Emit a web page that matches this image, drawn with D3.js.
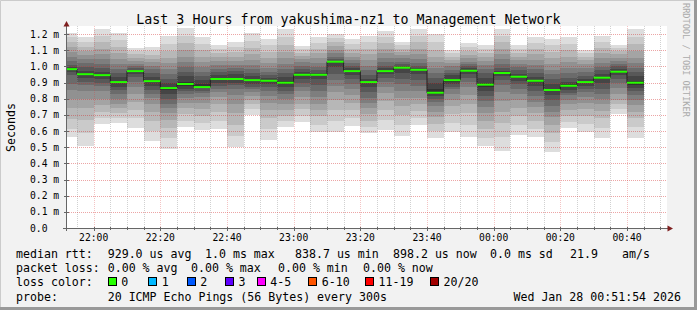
<!DOCTYPE html>
<html>
<head>
<meta charset="utf-8">
<script src="https://cdn.jsdelivr.net/npm/d3@7"></script>
<style>
  body { margin: 0; background: #f2f2f2; }
  svg { display: block; }
  text { font-family: "DejaVu Sans Mono", monospace; white-space: pre; }
</style>
</head>
<body>
<div id="chart"></div>
<script>
// end time of every 5 minute step (first one is cut by the left edge)
let stepEnds = ["21:55","22:00","22:05","22:10","22:15","22:20","22:25","22:30","22:35",
    "22:40","22:45","22:50","22:55","23:00","23:05","23:10","23:15","23:20","23:25",
    "23:30","23:35","23:40","23:45","23:50","23:55","00:00","00:05","00:10","00:15",
    "00:20","00:25","00:30","00:35","00:40","00:45"];

// median rtt per step, in microseconds
let medians = [983,952,946,903,971,909,866,891,872,922,922,915,911,899,948,948,1029,971,
    903,971,992,979,837,915,973,887,959,936,911,854,880,903,930,967,899];

// the 20 pings of every step, in microseconds
let pings = [
    [1206,1182,1150,1120,1089,1058,1031,1010,998,986,980,965,944,893,852,800,742,676,614,565],
    [1182,1150,1120,1095,1070,1045,1020,995,972,958,946,930,905,885,850,800,740,670,590,509],
    [1231,1190,1150,1110,1075,1045,1015,990,965,950,942,925,900,880,845,800,760,720,680,643],
    [1206,1165,1120,1080,1045,1015,985,960,935,910,896,875,855,831,800,770,740,710,680,651],
    [1113,1095,1075,1055,1035,1015,1000,988,980,974,968,955,935,903,870,830,780,730,680,620],
    [1120,1095,1070,1045,1025,1005,985,960,935,915,903,880,855,830,805,770,720,665,600,540],
    [1188,1140,1095,1055,1020,985,955,925,900,875,857,830,800,770,740,710,670,620,555,487],
    [1237,1190,1145,1100,1060,1025,995,965,940,905,877,860,845,830,805,775,740,705,665,627],
    [1182,1140,1100,1060,1025,995,965,940,915,890,880,864,850,835,810,775,735,695,650,606],
    [1132,1110,1085,1060,1035,1010,985,965,945,928,916,900,880,860,840,810,770,720,665,614],
    [1151,1120,1090,1060,1035,1010,990,970,950,930,914,900,885,860,820,770,710,640,570,503],
    [1206,1160,1115,1075,1040,1010,985,960,940,922,908,890,875,860,840,815,790,765,735,699],
    [1171,1130,1090,1055,1020,990,965,945,930,917,905,890,870,845,815,775,730,680,615,544],
    [1233,1185,1135,1090,1050,1015,985,960,935,910,888,870,850,830,800,765,730,695,660,623],
    [1126,1105,1085,1065,1045,1025,1005,985,965,953,943,925,900,875,845,810,770,735,695,658],
    [1182,1145,1110,1080,1050,1020,995,975,960,952,944,920,885,850,810,770,730,690,640,592],
    [1198,1175,1150,1125,1100,1080,1060,1045,1035,1031,1027,995,955,915,880,840,790,730,665,596],
    [1171,1140,1110,1085,1060,1040,1020,1005,990,976,966,945,920,890,860,820,775,730,680,633],
    [1188,1150,1110,1075,1040,1005,975,945,925,910,896,870,840,805,775,740,705,665,625,586],
    [1219,1180,1145,1110,1080,1050,1025,1005,988,976,966,950,930,905,875,835,785,730,670,606],
    [1151,1130,1110,1090,1070,1050,1030,1012,1002,996,988,960,925,890,850,805,755,700,635,571],
    [1233,1190,1150,1110,1075,1045,1020,1000,988,983,975,950,915,880,845,805,765,725,680,637],
    [1198,1150,1100,1060,1025,990,960,930,895,860,830,815,800,780,755,720,685,645,600,559],
    [1099,1080,1060,1040,1020,1000,980,962,945,925,905,890,875,858,830,795,755,705,650,596],
    [1144,1120,1095,1070,1050,1030,1015,1002,990,978,968,950,930,905,870,825,770,710,640,565],
    [1134,1110,1085,1060,1035,1010,985,960,930,900,875,850,815,785,750,710,665,615,560,509],
    [1233,1190,1150,1110,1075,1045,1015,990,972,963,955,940,915,885,840,785,720,650,565,478],
    [1134,1110,1085,1060,1040,1015,995,975,955,942,930,912,890,862,830,790,745,695,635,575],
    [1182,1145,1110,1075,1040,1010,985,960,935,917,905,880,850,815,780,750,710,665,615,565],
    [1171,1130,1090,1050,1015,980,950,920,890,862,846,820,790,755,720,685,640,590,530,472],
    [1182,1140,1100,1060,1025,990,960,930,905,888,872,855,838,820,795,765,730,695,655,617],
    [1099,1080,1060,1040,1015,990,965,940,924,910,896,880,860,840,810,775,735,690,645,596],
    [1188,1150,1115,1080,1050,1020,995,975,955,937,923,895,860,830,800,765,725,680,620,559],
    [1134,1115,1095,1075,1055,1035,1015,1000,985,973,961,945,925,895,865,830,795,765,735,705],
    [1233,1185,1140,1095,1055,1020,990,965,940,912,886,865,845,823,795,760,720,680,625,559]
];

let yTicks = [0, 0.1, 0.2, 0.3, 0.4, 0.5, 0.6, 0.7, 0.8, 0.9, 1.0, 1.1, 1.2];
let yTickLabels = ["0.0","0.1 m","0.2 m","0.3 m","0.4 m","0.5 m","0.6 m","0.7 m","0.8 m",
    "0.9 m","1.0 m","1.1 m","1.2 m"];
let xTickLabels = ["22:00","22:20","22:40","23:00","23:20","23:40","00:00","00:20","00:40"];

let lossLabels = ["0","1","2","3","4-5","6-10","11-19","20/20"];
let lossColors = ["#26ff00","#00b8ff","#0059ff","#5e00ff","#ff00ff","#ff5500","#ff0000","#a10000"];

let legendRows = [
    [[16,"median rtt:"],[107.7,"929.0 us avg"],[205,"1.0 ms max"],[295,"838.7 us min"],
     [393,"898.2 us now"],[490,"0.0 ms sd"],[570,"21.9"],[622,"am/s"]],
    [[16,"packet loss:"],[107.7,"0.00 % avg"],[191,"0.00 % max"],[278,"0.00 % min"],[363,"0.00 % now"]],
    [[16,"loss color:"]],
    [[16,"probe:"],[107.7,"20 ICMP Echo Pings (56 Bytes) every 300s"]]
];
let stampText = "Wed Jan 28 00:51:54 2026";


function toDate(hm) {
    let [h, m] = hm.split(":").map(Number);
    return new Date(2026, 0, h >= 12 ? 27 : 28, h, m);
}

function smokeChart(selection) {
    let width = 697, height = 310;
    let left = 67, right = 667, top = 26, bottom = 228;

    let svg = selection.append("svg").attr("width", width).attr("height", height);

    // frame
    svg.append("rect").attr("width", width).attr("height", height).attr("fill", "#f2f2f2");
    svg.append("path").attr("d", `M0.5,${height}V0.5H${width}`).attr("stroke", "#cbcbcb").attr("fill", "none");
    svg.append("path").attr("d", `M0,${height - 1.5}H${width - 1.5}V0`).attr("stroke", "#999").attr("stroke-width", 3).attr("fill", "none");

    let x = d3.scaleTime()
        .domain([new Date(2026, 0, 27, 21, 52), new Date(2026, 0, 28, 0, 52)])
        .range([left, right]);
    let y = d3.scaleLinear().domain([0, 1.25]).range([bottom, top]);

    svg.append("rect").attr("x", left).attr("y", top)
        .attr("width", right - left).attr("height", bottom - top).attr("fill", "#fff");

    let steps = stepEnds.map((s, i) => {
        let end = toDate(s);
        let start = d3.timeMinute.offset(end, -5);
        let sorted = pings[i].slice().sort((a, b) => a - b);
        return {
            x0: Math.max(x(start), left),
            x1: x(end),
            med: medians[i] / 1000,
            p: sorted.map(v => v / 1000)
        };
    });

    // smoke: band k goes from ping k to ping 21-k, darker towards the middle
    let bands = [];
    steps.forEach(st => {
        for (let k = 1; k <= 10; k++) {
            let g = Math.floor(190 / 10 * (10 - k)) + 50;
            bands.push({ st: st, lo: st.p[k - 1], hi: st.p[20 - k], color: d3.rgb(g, g, g) });
        }
    });
    svg.append("g").selectAll("rect")
        .data(bands)
        .enter()
        .append("rect")
        .attr("x", d => d.st.x0)
        .attr("width", d => d.st.x1 - d.st.x0)
        .attr("y", d => y(d.hi))
        .attr("height", d => y(d.lo) - y(d.hi))
        .attr("fill", d => d.color)
        .attr("shape-rendering", "crispEdges");

    // grid
    let grid = svg.append("g").attr("shape-rendering", "crispEdges").attr("stroke-dasharray", "1,1");
    let minor = d3.timeMinute.every(5).range(x.domain()[0], x.domain()[1]);
    grid.selectAll(".vminor")
        .data(minor.filter(t => t.getMinutes() % 20 !== 0))
        .enter().append("line")
        .attr("x1", d => Math.round(x(d)) + 0.5).attr("x2", d => Math.round(x(d)) + 0.5)
        .attr("y1", top).attr("y2", bottom)
        .attr("stroke", "rgba(140,140,140,0.4)");
    grid.selectAll(".vmajor")
        .data(minor.filter(t => t.getMinutes() % 20 === 0))
        .enter().append("line")
        .attr("x1", d => Math.round(x(d)) + 0.5).attr("x2", d => Math.round(x(d)) + 0.5)
        .attr("y1", top).attr("y2", bottom)
        .attr("stroke", "rgba(220,60,60,0.3)");
    grid.selectAll(".hmajor")
        .data(yTicks.slice(1))
        .enter().append("line")
        .attr("x1", left).attr("x2", right)
        .attr("y1", d => Math.round(y(d)) + 0.5).attr("y2", d => Math.round(y(d)) + 0.5)
        .attr("stroke", "rgba(210,40,40,0.42)");

    // median: dark step line, then green segments
    let pts = [];
    steps.forEach(st => { pts.push([st.x0, st.med]); pts.push([st.x1, st.med]); });
    svg.append("path")
        .attr("d", d3.line().x(d => d[0]).y(d => y(d[1]))(pts))
        .attr("fill", "none").attr("stroke", "#202020").attr("stroke-width", 1);
    svg.append("g").selectAll("line")
        .data(steps)
        .enter().append("line")
        .attr("x1", d => d.x0).attr("x2", d => d.x1)
        .attr("y1", d => y(d.med)).attr("y2", d => y(d.med))
        .attr("stroke", lossColors[0]).attr("stroke-width", 2);

    // axes
    let axisCol = "#666";
    svg.append("line").attr("x1", left - 4).attr("x2", right + 2)
        .attr("y1", bottom + 0.5).attr("y2", bottom + 0.5).attr("stroke", axisCol);
    svg.append("line").attr("x1", left - 0.5).attr("x2", left - 0.5)
        .attr("y1", bottom + 3).attr("y2", top - 2).attr("stroke", axisCol);
    svg.append("g").selectAll("line")
        .data(yTicks)
        .enter().append("line")
        .attr("x1", left - 3).attr("x2", left + 2)
        .attr("y1", d => Math.round(y(d)) + 0.5).attr("y2", d => Math.round(y(d)) + 0.5)
        .attr("stroke", axisCol);
    svg.append("g").selectAll("line")
        .data(minor.slice(1))
        .enter().append("line")
        .attr("x1", d => Math.round(x(d)) + 0.5).attr("x2", d => Math.round(x(d)) + 0.5)
        .attr("y1", bottom - 1).attr("y2", d => bottom + (d.getMinutes() % 20 === 0 ? 3 : 2))
        .attr("stroke", axisCol);

    let arrowCol = "#7f1f1f";
    svg.append("path").attr("d", `M${left - 0.5},21 L${left - 3.5},26.5 L${left + 2.5},26.5 Z`).attr("fill", arrowCol);
    svg.append("path").attr("d", `M673,${bottom + 0.5} L667.5,${bottom - 2.5} L667.5,${bottom + 3.5} Z`).attr("fill", arrowCol);

    // tick labels
    svg.append("g").selectAll("text")
        .data(yTicks)
        .enter().append("text")
        .attr("x", 30).attr("y", d => y(d) + 3.5)
        .attr("font-size", "9.7px")
        .text((d, i) => yTickLabels[i]);
    svg.append("g").selectAll("text")
        .data(xTickLabels)
        .enter().append("text")
        .attr("x", d => x(toDate(d)))
        .attr("y", 241)
        .attr("text-anchor", "middle")
        .attr("font-size", "9.7px")
        .text(d => d);

    // titles
    svg.append("text").attr("x", 348.5).attr("y", 24).attr("text-anchor", "middle")
        .attr("font-size", "13.3px")
        .text("Last 3 Hours from yakushima-nz1 to Management Network");
    svg.append("text").attr("transform", "translate(14.5,127.5) rotate(-90)")
        .attr("text-anchor", "middle").attr("font-size", "11.6px").text("Seconds");
    svg.append("text").attr("transform", "translate(683,3) rotate(90)")
        .attr("font-size", "8.6px").attr("fill", "#aaa").text("RRDTOOL / TOBI OETIKER");

    // legend
    let baselines = [258.2, 272.4, 286.4, 300.8];
    legendRows.forEach((row, r) => {
        svg.append("g").selectAll("text")
            .data(row)
            .enter().append("text")
            .attr("x", d => d[0]).attr("y", baselines[r])
            .attr("font-size", "11.6px")
            .text(d => d[1]);
    });
    let boxX = [107.7, 148.3, 186.7, 225, 256.7, 308.3, 365, 430];
    let lg = svg.append("g").selectAll("g")
        .data(lossLabels)
        .enter().append("g");
    lg.append("rect")
        .attr("x", (d, i) => Math.round(boxX[i]) + 0.5).attr("y", 277.5)
        .attr("width", 8).attr("height", 8)
        .attr("fill", (d, i) => lossColors[i]).attr("stroke", "#000");
    lg.append("text")
        .attr("x", (d, i) => boxX[i] + 13.5).attr("y", baselines[2])
        .attr("font-size", "11.6px")
        .text(d => d);
    svg.append("text").attr("x", 681).attr("y", baselines[3]).attr("text-anchor", "end")
        .attr("font-size", "11.6px").text(stampText);
}

window.onload = () => {
    d3.select("#chart").call(smokeChart);
};
</script>
</body>
</html>
